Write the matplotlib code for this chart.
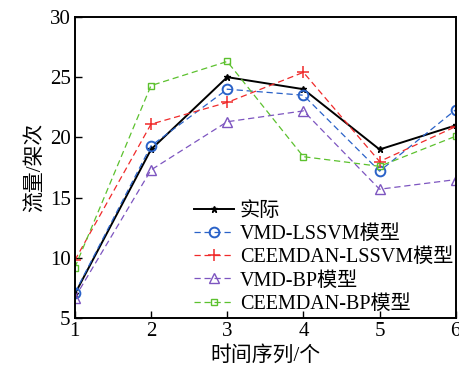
import matplotlib
matplotlib.use("Agg")
import matplotlib.pyplot as plt

# 流量预测结果对比
steps = [1, 2, 3, 4, 5, 6]
actual = [7.0, 19.0, 25.0, 24.0, 19.0, 21.0]
vmd_lssvm = [7.1, 19.3, 24.0, 23.5, 17.2, 22.3]
ceemdan_lssvm = [9.8, 21.1, 22.9, 25.4, 18.0, 20.9]
vmd_bp = [6.7, 17.3, 21.3, 22.2, 15.7, 16.5]
ceemdan_bp = [9.2, 24.3, 26.3, 18.4, 17.6, 20.1]

labels = ["实际", "VMD-LSSVM模型", "CEEMDAN-LSSVM模型", "VMD-BP模型", "CEEMDAN-BP模型"]
xticks = [1, 2, 3, 4, 5, 6]
yticks = [5, 10, 15, 20, 25, 30]

plt.rcParams['font.family'] = ['Liberation Serif', 'Noto Sans CJK SC']
plt.rcParams['font.size'] = 15

fig = plt.figure(figsize=(4.59, 3.67), dpi=100)
ax = fig.add_axes([0.163, 0.133, 0.830, 0.821])

ax.plot(steps, actual, '-', color='black', lw=1.4, marker='*', ms=5, label=labels[0])
ax.plot(steps, vmd_lssvm, '--', color='#2a62c8', lw=0.9, marker='o', ms=7,
        mfc='none', mew=1.4, dashes=(5, 3), label=labels[1])
ax.plot(steps, ceemdan_lssvm, '--', color='#f02a2a', lw=0.9, marker='+', ms=8,
        mew=1.1, dashes=(5, 3), label=labels[2])
ax.plot(steps, vmd_bp, '--', color='#7d55c0', lw=0.9, marker='^', ms=7,
        mfc='none', mew=1.0, dashes=(5, 3), label=labels[3])
ax.plot(steps, ceemdan_bp, '--', color='#5cc12e', lw=0.9, marker='s', ms=5,
        mfc='none', mew=1.0, dashes=(5, 3), label=labels[4])

ax.set_xlim(1, 6)
ax.set_ylim(5, 30)
ax.set_xticks(xticks)
ax.set_yticks(yticks)
ax.tick_params(direction='in', length=5, width=1.0, pad=3)
for s in ax.spines.values():
    s.set_linewidth(1.4)

ax.set_xlabel("时间序列/个", labelpad=3)
ax.set_ylabel("流量/架次", labelpad=3)

ax.legend(loc='lower left', bbox_to_anchor=(0.28, -0.025), frameon=False, fontsize=14.5,
          handlelength=2.0, handletextpad=0.3, labelspacing=0.2, borderpad=0.1)

fig.savefig("out.png", dpi=100)
